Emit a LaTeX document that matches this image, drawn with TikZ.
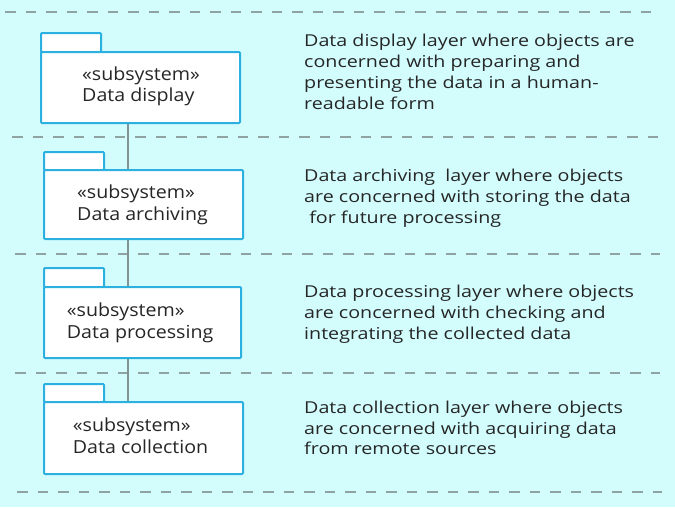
\documentclass[tikz,border=0pt]{standalone}
\usepackage{fontspec}
\setmainfont{Open Sans}
\newfontfamily\descfont[FakeStretch=1.2]{Open Sans}
\newfontfamily\pkgfont[FakeStretch=1.09]{Open Sans}
\usetikzlibrary{positioning}
\definecolor{bgc}{HTML}{D3FDFD}
\definecolor{boxblue}{HTML}{2BB0E0}
\definecolor{dashgray}{HTML}{8FA3A3}
\definecolor{txt}{HTML}{262626}
\tikzset{
  pkg/.style={draw=boxblue, line width=2pt, fill=white, rounded corners=1pt, anchor=north west, inner sep=0pt},
  layerline/.style={draw=dashgray, line width=2.2pt, dash pattern=on 10.5pt off 10pt},
  vline/.style={draw=dashgray!90!black, line width=2pt},
  boxtxt/.style={align=left, anchor=base west, inner sep=0pt, font=\pkgfont\fontsize{18}{21.5}\selectfont, text=txt},
  desc/.style={align=left, anchor=base west, inner sep=0pt, font=\descfont\fontsize{16.4}{20.8}\selectfont, text=txt},
}
\begin{document}
\begin{tikzpicture}[x=1pt, y=-1pt]
\fill[bgc] (0,0) rectangle (675,507);
\useasboundingbox (0,0) rectangle (675,507);
% layer separators
\coordinate (l1a) at (5,12);   \coordinate (l1b) at (660,12);
\coordinate (l2a) at (12,137); \coordinate (l2b) at (658,137);
\coordinate (l3a) at (15,254); \coordinate (l3b) at (660,254);
\coordinate (l4a) at (15,373); \coordinate (l4b) at (660,373);
\coordinate (l5a) at (17,492); \coordinate (l5b) at (662,492);
\draw[layerline] (l1a) -- (l1b);
\draw[layerline] (l2a) -- (l2b);
\draw[layerline] (l3a) -- (l3b);
\draw[layerline] (l4a) -- (l4b);
\draw[layerline] (l5a) -- (l5b);
% vertical connector
\coordinate (vtop) at (128,122);
\coordinate (vbot) at (128,401);
\draw[vline] (vtop) -- (vbot);
% packages
\node[pkg, minimum width=60pt, minimum height=19pt] (t1) at (40,32) {};
\node[pkg, minimum width=199pt, minimum height=71pt] (b1) at (40,51) {};
\node[pkg, minimum width=60pt, minimum height=18pt] (t2) at (43,151) {};
\node[pkg, minimum width=199pt, minimum height=69pt] (b2) at (43,169) {};
\node[pkg, minimum width=60pt, minimum height=19pt] (t3) at (43,267) {};
\node[pkg, minimum width=197pt, minimum height=71pt] (b3) at (43,286) {};
\node[pkg, minimum width=60pt, minimum height=18pt] (t4) at (43,383) {};
\node[pkg, minimum width=199pt, minimum height=72pt] (b4) at (43,401) {};
% package labels (anchored at the baseline of the last line)
\node[boxtxt] (n1) at (82,101.7) {«subsystem»\\Data display};
\node[boxtxt] (n2) at (77,220) {«subsystem»\\Data archiving};
\node[boxtxt] (n3) at (66.7,338.3) {«subsystem»\\Data processing};
\node[boxtxt] (n4) at (72.7,453.3) {«subsystem»\\Data collection};
% descriptions (anchored at the baseline of the last line)
\node[desc] (d1) at (304,109.1) {Data display layer where objects are\\concerned with preparing and\\presenting the data in a human-\\readable form};
\node[desc] (d2) at (304,223.3) {Data archiving\ \ layer where objects\\are concerned with storing the data\\\ for future processing};
\node[desc] (d3) at (304,339.3) {Data processing layer where objects\\are concerned with checking and\\integrating the collected data};
\node[desc] (d4) at (304,454.9) {Data collection layer where objects\\are concerned with acquiring data\\from remote sources};
\end{tikzpicture}
\end{document}
